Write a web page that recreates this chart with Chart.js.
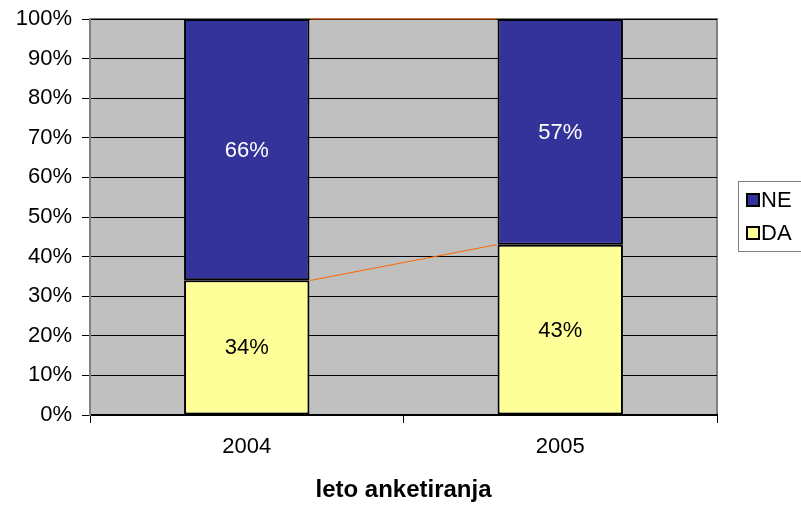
<!DOCTYPE html>
<html lang="sl">
<head>
<meta charset="UTF-8">
<title>leto anketiranja</title>
<script src="https://cdn.jsdelivr.net/npm/chart.js@4.4.1/dist/chart.umd.min.js"></script>
<style>
  body { margin: 0; background: #fff; }
  #wrap { width: 801px; height: 508px; }
</style>
</head>
<body>
<div id="wrap"><canvas id="chart" width="801" height="508"></canvas></div>
<script>
const years = ['2004', '2005'];
const daValues = [34, 43];
const neValues = [66, 57];
const seriesNames = ['DA', 'NE'];
const seriesColors = ['#FFFF99', '#333399'];
const labelColors = ['#000000', '#FFFFFF'];
const axisTitle = 'leto anketiranja';

const FONT = 'Arial, "Liberation Sans", sans-serif';

// grey plot background
const plotBg = {
  id: 'plotBg',
  beforeDraw(chart) {
    const { ctx, chartArea: a } = chart;
    ctx.save();
    ctx.fillStyle = '#C0C0C0';
    ctx.fillRect(a.left, a.top, a.right - a.left, a.bottom - a.top);
    ctx.strokeStyle = '#808080';
    ctx.lineWidth = 2;
    ctx.beginPath();
    ctx.moveTo(a.left, a.bottom);
    ctx.lineTo(a.left, a.top);
    ctx.lineTo(a.right, a.top);
    ctx.lineTo(a.right, a.bottom);
    ctx.stroke();
    ctx.restore();
  }
};

// series lines between bar tops + value labels
const extras = {
  id: 'extras',
  afterDatasetsDraw(chart) {
    const ctx = chart.ctx;
    ctx.save();
    chart.data.datasets.forEach((ds, di) => {
      const bars = chart.getDatasetMeta(di).data;
      ctx.strokeStyle = '#FF6600';
      ctx.lineWidth = 1;
      for (let i = 0; i < bars.length - 1; i++) {
        const a = bars[i], b = bars[i + 1];
        ctx.beginPath();
        ctx.moveTo(a.x + a.width / 2 + 1, a.y);
        ctx.lineTo(b.x - b.width / 2 - 1, b.y);
        ctx.stroke();
      }
      ctx.fillStyle = labelColors[di];
      ctx.font = '22px ' + FONT;
      ctx.textAlign = 'center';
      ctx.textBaseline = 'middle';
      bars.forEach((bar, i) => {
        ctx.fillText(ds.data[i] + '%', bar.x, (bar.y + bar.base) / 2 + 1);
      });
    });
    ctx.restore();
  }
};

// legend box, partly outside the canvas like the original
const legendBox = {
  id: 'legendBox',
  afterDraw(chart) {
    const ctx = chart.ctx;
    ctx.save();
    ctx.fillStyle = '#FFFFFF';
    ctx.fillRect(738, 181, 80, 71);
    ctx.strokeStyle = '#808080';
    ctx.lineWidth = 1;
    ctx.strokeRect(738.5, 181.5, 80, 70);
    const rows = [1, 0];
    rows.forEach((di, r) => {
      const cy = 200 + r * 33;
      ctx.fillStyle = seriesColors[di];
      ctx.fillRect(747, cy - 6, 12, 12);
      ctx.strokeStyle = '#000';
      ctx.lineWidth = 2;
      ctx.strokeRect(747, cy - 6, 12, 12);
      ctx.fillStyle = '#000';
      ctx.font = '22px ' + FONT;
      ctx.textBaseline = 'middle';
      ctx.textAlign = 'left';
      ctx.fillText(seriesNames[di], 761, cy + 1);
    });
    ctx.restore();
  }
};

new Chart(document.getElementById('chart'), {
  type: 'bar',
  data: {
    labels: years,
    datasets: [
      { label: seriesNames[0], data: daValues, backgroundColor: seriesColors[0] },
      { label: seriesNames[1], data: neValues, backgroundColor: seriesColors[1] }
    ].map(d => Object.assign(d, {
      borderColor: '#000000',
      borderWidth: 2,
      borderSkipped: false,
      barPercentage: 0.4,
      categoryPercentage: 1
    }))
  },
  options: {
    responsive: false,
    animation: false,
    layout: { padding: { left: 0, right: 84, top: 19, bottom: 0 } },
    plugins: { legend: { display: false }, tooltip: { enabled: false } },
    scales: {
      x: {
        stacked: true,
        offset: true,
        grid: { offset: true, drawOnChartArea: false, drawTicks: true, tickLength: 8, color: '#000', lineWidth: 1 },
        border: { color: '#000', width: 2 },
        ticks: { color: '#000', font: { family: FONT, size: 22 }, padding: 11 },
        title: { display: true, text: axisTitle, color: '#000', font: { family: FONT, size: 24, weight: 'bold' }, padding: { top: 4, bottom: 3 } },
        afterFit(scale) { scale.height = 93; }
      },
      y: {
        stacked: true,
        min: 0,
        max: 100,
        grid: { color: '#000', lineWidth: 1, tickLength: 8, drawTicks: true },
        border: { color: '#808080', width: 2 },
        ticks: { stepSize: 10, color: '#000', font: { family: FONT, size: 22, lineHeight: 1 }, padding: 10, callback: v => v + '%' },
        afterFit(scale) { scale.width = 90; scale.paddingTop = 0; scale.paddingBottom = 0; }
      }
    }
  },
  plugins: [plotBg, extras, legendBox]
});
</script>
</body>
</html>
